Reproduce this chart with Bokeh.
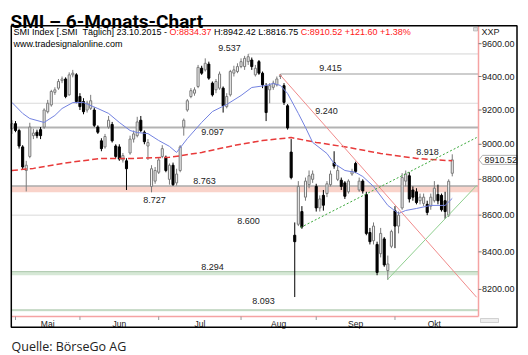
import math
from bokeh.plotting import figure
from bokeh.models import Range1d, Label
from bokeh.core.properties import value
from bokeh.embed import file_html
from bokeh.resources import INLINE

# ---------------- data ----------------
months = ["Mai", "Jun", "Jul", "Aug", "Sep", "Okt"]
month_days = [18, 22, 23, 21, 22, 22]          # trading days per month
first_index = -1                                # first candle = 30.04.2015

opens = [9090, 9120, 9080, 8985, 8850, 8930, 9050, 9070, 9085, 9100, 9190, 9230, 9305, 9330, 9375, 9385,
         9290, 9410, 9410, 9280, 9250, 9200, 9210, 9200, 9100, 9020, 8985, 9100, 9115, 8990, 8985, 8910,
         8905, 8950, 9030, 9050, 9140, 9070, 8990, 8760, 8790, 8840, 8930, 8925, 8800, 8880, 8780, 8850,
         9100, 9200, 9280, 9300, 9340, 9450, 9440, 9475, 9360, 9320, 9330, 9330, 9220, 9290, 9420, 9430,
         9460, 9460, 9490, 9500, 9410, 9490, 9420, 9345, 9320, 9335, 9350, 9400, 9345, 9225, 8955, 8490,
         8550, 8620, 8700, 8770, 8800, 8760, 8640, 8710, 8720, 8770, 8895, 8800, 8795, 8780, 8730, 8830,
         8890, 8740, 8790, 8715, 8505, 8460, 8440, 8390, 8470, 8300, 8430, 8625, 8540, 8640, 8790, 8820,
         8740, 8730, 8680, 8665, 8660, 8650, 8680, 8715, 8710, 8680, 8600, 8834.37]
highs = [9140, 9135, 9090, 8995, 8905, 9125, 9090, 9085, 9100, 9210, 9260, 9320, 9335, 9385, 9400, 9395,
         9425, 9440, 9420, 9300, 9270, 9255, 9290, 9215, 9110, 9035, 9060, 9165, 9130, 9000, 9000, 8950,
         8920, 9050, 9080, 9160, 9165, 9080, 9030, 8880, 8870, 8925, 8995, 8935, 8890, 8895, 8860, 8995,
         9150, 9265, 9330, 9335, 9470, 9465, 9510, 9490, 9370, 9385, 9430, 9340, 9300, 9440, 9465, 9480,
         9510, 9525, 9537, 9515, 9470, 9500, 9430, 9360, 9360, 9375, 9400, 9415, 9360, 9235, 9030, 8560,
         8790, 8650, 8810, 8850, 8850, 8775, 8710, 8740, 8790, 8850, 8960, 8880, 8810, 8790, 8800, 8860,
         8900, 8810, 8800, 8730, 8530, 8560, 8455, 8530, 8480, 8380, 8520, 8650, 8620, 8835, 8850, 8840,
         8760, 8750, 8720, 8720, 8680, 8720, 8790, 8770, 8720, 8730, 8800, 8942.42]
lows = [9060, 9070, 8975, 8855, 8732, 8920, 9030, 9035, 9030, 9090, 9180, 9220, 9290, 9320, 9360, 9270,
        9285, 9395, 9240, 9200, 9175, 9185, 9200, 9100, 9060, 8960, 8975, 9090, 9010, 8920, 8905, 8895,
        8740, 8940, 9010, 9040, 9070, 9000, 8910, 8727, 8775, 8830, 8920, 8840, 8770, 8763, 8765, 8840,
        9050, 9190, 9270, 9285, 9330, 9410, 9430, 9380, 9280, 9300, 9320, 9185, 9210, 9280, 9400, 9420,
        9450, 9440, 9470, 9440, 9400, 9410, 9330, 9135, 9240, 9320, 9340, 9385, 9230, 9085, 8800, 8160,
        8540, 8525, 8680, 8750, 8780, 8620, 8620, 8625, 8700, 8760, 8860, 8790, 8740, 8690, 8720, 8820,
        8835, 8730, 8720, 8490, 8440, 8440, 8275, 8370, 8320, 8250, 8420, 8420, 8500, 8630, 8760, 8670,
        8680, 8660, 8660, 8650, 8600, 8630, 8670, 8660, 8620, 8580, 8590, 8816.75]
closes = [9120, 9080, 8990, 8870, 8880, 9100, 9065, 9050, 9050, 9200, 9240, 9310, 9320, 9370, 9385, 9280,
          9410, 9420, 9250, 9220, 9190, 9240, 9255, 9110, 9070, 8975, 9045, 9140, 9020, 8930, 8915, 8935,
          8860, 9030, 9060, 9130, 9080, 9015, 9010, 8860, 8850, 8910, 8975, 8850, 8880, 8770, 8830, 8985,
          9140, 9255, 9315, 9320, 9455, 9420, 9480, 9390, 9290, 9370, 9415, 9225, 9280, 9430, 9440, 9460,
          9490, 9510, 9520, 9460, 9450, 9420, 9350, 9185, 9345, 9360, 9385, 9405, 9245, 9095, 8810, 8455,
          8760, 8535, 8790, 8820, 8830, 8640, 8690, 8655, 8775, 8830, 8875, 8850, 8760, 8705, 8790, 8845,
          8845, 8790, 8735, 8500, 8455, 8540, 8290, 8500, 8330, 8335, 8510, 8540, 8600, 8810, 8830, 8690,
          8700, 8670, 8700, 8700, 8615, 8700, 8750, 8680, 8630, 8620, 8788.92, 8910.52]

# moving averages (trading-day index, value)
blue_ma_idx = [-1, 2, 4, 8, 11, 13, 16, 19, 23, 26, 29, 32, 34, 37, 40, 43, 45, 48, 52, 55, 59, 63,
               66, 70, 72, 74, 76, 79, 81, 83, 87, 89, 92, 95, 97, 100, 104, 107, 109, 112, 116, 120, 122]
blue_ma_val = [9245, 9180, 9150, 9127, 9168, 9209, 9244, 9244, 9209, 9180, 9127, 9080, 9068, 9062, 9022,
               8988, 8953, 9033, 9127, 9191, 9233, 9286, 9334, 9346, 9358, 9346, 9298, 9180, 9098, 9011,
               8947, 8890, 8850, 8839, 8816, 8760, 8654, 8609, 8626, 8637, 8654, 8654, 8693]
red_ma_idx = [-1, 5, 15, 24, 33, 43, 52, 61, 69, 77, 84, 93, 102, 112, 118, 122]
red_ma_val = [8850, 8862, 8896, 8919, 8919, 8925, 8953, 8993, 9022, 9039, 9011, 8982, 8947, 8919, 8910, 8905]

# trend lines (index, price) pairs
trend_red = ([73.7, 128.8], [9415, 8159])
trend_green_dot = ([79.6, 128.8], [8532, 9039])
trend_green = ([103.9, 128.8], [8252, 8765])

# horizontal levels
level_partial = [(65, 9537), (74, 9415)]
zone_pink = (8727, 8763)
zone_green = [(8275, 8294), (8086, 8093)]
label_values = [9537, 9415, 9240, 9097, 8918, 8763, 8727, 8600, 8294, 8093]
axis_ticks = [8200, 8400, 8600, 8800, 9000, 9200, 9400, 9600]

# ---------------- layout helpers (image pixel -> data) ----------------
PX0, PXD = 15.0, 3.58
PY_REF, P_REF, PX_LN = 76.0, 9400.0, 1559.0
FIG_W, FIG_H = 528, 355

def X(px):
    return (px - PX0) / PXD

def Y(py):
    return P_REF * math.exp((PY_REF - py) / PX_LN)

def PY(p):
    return PY_REF - PX_LN * math.log(p / P_REF)

FONT = value("Liberation Sans")
AW = {' ': 278, '%': 889, '+': 584, '-': 333, '.': 278, ':': 278, '[': 278, ']': 278,
      'A': 667, 'C': 722, 'H': 722, 'I': 278, 'L': 556, 'M': 833, 'O': 778, 'S': 667, 'T': 611,
      'a': 556, 'c': 500, 'd': 556, 'e': 556, 'g': 556, 'h': 556, 'i': 222, 'l': 222, 'n': 556,
      'o': 556, 'r': 333, 's': 500, 't': 278, 'u': 556, 'w': 722, 'x': 500, 'ä': 556}

def tw(s, size):
    return sum(AW.get(ch, 556) for ch in s) * size / 1000.0

p = figure(width=FIG_W, height=FIG_H, output_backend="svg", toolbar_location=None,
           x_range=Range1d(X(0), X(FIG_W)), y_range=Range1d(Y(FIG_H), Y(0)),
           y_axis_type="log", x_axis_location=None, y_axis_location=None,
           min_border=0, outline_line_color=None)
p.background_fill_color = "white"
p.border_fill_color = "white"
for g in p.grid:
    g.visible = False

XL, XR = X(11), X(478)

# zones and levels
p.quad(left=[XL], right=[XR], bottom=[zone_pink[0]], top=[zone_pink[1]],
       fill_color="#f9d3ca", line_color=None)
for lo, hi in zone_green:
    p.quad(left=[XL], right=[XR], bottom=[lo], top=[hi], fill_color="#d6e8d6", line_color=None)
p.segment(x0=[XL] * 2, x1=[XR] * 2, y0=[9240, 8600], y1=[9240, 8600], line_color="#dadada", line_width=1)
p.segment(x0=[XL], x1=[XR], y0=[9097], y1=[9097], line_color="#b3b3b3", line_width=2)
p.segment(x0=[XL], x1=[XR], y0=[8763], y1=[8763], line_color="#ababab", line_width=1.5)
p.segment(x0=[XL] * 2, x1=[XR] * 2, y0=[8294, 8093], y1=[8294, 8093], line_color="#a9c6a9", line_width=1)
p.segment(x0=[level_partial[0][0]], x1=[XR], y0=[level_partial[0][1]], y1=[level_partial[0][1]],
          line_color="#d4d4d4", line_width=1)
p.segment(x0=[level_partial[1][0]], x1=[XR], y0=[level_partial[1][1]], y1=[level_partial[1][1]],
          line_color="#bdbdbd", line_width=1.5)

# candles
xs = [first_index + k for k in range(len(closes))]
up = [c >= o for o, c in zip(opens, closes)]
wick_col = ["#7a7a7a" if u else "#000000" for u in up]
p.segment(x0=xs, x1=xs, y0=lows, y1=highs, line_color=wick_col, line_width=1)
p.vbar(x=xs, width=0.58, top=[max(o, c) for o, c in zip(opens, closes)],
       bottom=[min(o, c) for o, c in zip(opens, closes)],
       fill_color=["#f4f4f4" if u else "#000000" for u in up],
       line_color=wick_col, line_width=1)

# moving averages and trend lines
p.line(red_ma_idx, red_ma_val, line_color="#e83a3a", line_width=1.5, line_dash="6 3")
p.line(blue_ma_idx, blue_ma_val, line_color="#7382e0", line_width=1)
p.line(trend_red[0], trend_red[1], line_color="#f08a8a", line_width=1)
p.line(trend_green_dot[0], trend_green_dot[1], line_color="#3aa83a", line_width=1, line_dash="2 2")
p.line(trend_green[0], trend_green[1], line_color="#8fcf8f", line_width=1)

# level labels
lab_pos = [(229, 47.5), (330, 67.5), (326, 110), (212, 131.5), (427, 151.5), (204, 180),
           (154, 199.5), (248, 220), (212, 266), (263, 300)]
p.text(x=[X(a) for a, b in lab_pos], y=[Y(b) for a, b in lab_pos],
       text=[f"{v / 1000:.3f}" for v in label_values], text_font=FONT, text_font_size="9px",
       text_color="#222222", text_align="center", text_baseline="middle")

# pink axis lines
p.segment(x0=[XR], x1=[XR], y0=[Y(25.5)], y1=[Y(316)], line_color="#f5a3a3", line_width=1.5)
p.segment(x0=[XL], x1=[XR], y0=[Y(316)], y1=[Y(316)], line_color="#f5a3a3", line_width=1.5)

# right axis ticks and labels
p.segment(x0=[XR] * len(axis_ticks), x1=[X(481)] * len(axis_ticks), y0=axis_ticks, y1=axis_ticks,
          line_color="#777777", line_width=1)
p.text(x=[X(481.5)] * len(axis_ticks), y=axis_ticks, text=[f"{v:.2f}" for v in axis_ticks],
       text_font=FONT, text_font_size="9px", text_color="#222222", text_baseline="middle")
p.text(x=[X(481)], y=[Y(31.5)], text=["XXP"], text_font=FONT, text_font_size="9px",
       text_color="#222222", text_baseline="middle")

# month ticks and labels
starts = [0]
for d in month_days[:-1]:
    starts.append(starts[-1] + d)
mids = [s + d / 2.0 for s, d in zip(starts, month_days)]
p.segment(x0=starts, x1=starts, y0=[Y(316)] * len(starts), y1=[Y(319.5)] * len(starts),
          line_color="#999999", line_width=1)
p.text(x=mids, y=[Y(323)] * len(mids), text=months, text_font=FONT, text_font_size="8.5px",
       text_color="#222222", text_align="center", text_baseline="middle")

# last price box
cy = PY(closes[-1])
p.patch(x=[X(478.5), X(482), X(516.5), X(516.5), X(482)],
        y=[closes[-1], Y(cy - 4.5), Y(cy - 4.5), Y(cy + 4.5), Y(cy + 4.5)],
        fill_color="white", line_color="#b0b0b0", line_width=1)
p.text(x=[X(484)], y=[closes[-1]], text=[f"{closes[-1]:.2f}"], text_font=FONT, text_font_size="9px",
       text_color="#222222", text_baseline="middle")

# small decorations
p.quad(left=[X(473)], right=[X(477)], top=[Y(27)], bottom=[Y(30.5)], fill_color="#dddddd",
       line_color="#999999", line_width=0.5)
p.quad(left=[X(480)], right=[X(498)], top=[Y(318)], bottom=[Y(322)], fill_color="#eeeeee",
       line_color="#aaaaaa", line_width=0.5)

# header texts
chg = closes[-1] - closes[-2]
pct = chg / closes[-2] * 100
segs = [("SMI Index [.SMI", "#000000", 0.0),
        ("Täglich] 23.10.2015 -", "#000000", 2 * 278 * 9 / 1000.0),
        (f"O:{opens[-1]:.2f}", "#ff2020", 278 * 9 / 1000.0),
        (f"H:{highs[-1]:.2f} L:{lows[-1]:.2f}", "#000000", 278 * 9 / 1000.0),
        (f"C:{closes[-1]:.2f} +{chg:.2f} +{pct:.2f}%", "#ff2020", 278 * 9 / 1000.0)]
cx = 13.0
hx, ht, hc = [], [], []
for s, col, gap in segs:
    cx += gap
    hx.append(X(cx))
    ht.append(s)
    hc.append(col)
    cx += tw(s, 9)
p.text(x=hx, y=[Y(31)] * len(hx), text=ht, text_color=hc, text_font=FONT, text_font_size="9px",
       text_baseline="middle")
p.text(x=[X(13)], y=[Y(43.5)], text=["www.tradesignalonline.com"], text_font=FONT,
       text_font_size="9px", text_color="#000000", text_baseline="middle")

# outer box
p.quad(left=[X(10.8)], right=[X(516.5)], top=[Y(25.2)], bottom=[Y(326.8)], fill_color=None,
       line_color="#000000", line_width=1.5)

# title and source
p.add_layout(Label(x=X(10), y=Y(20.5), text="SMI – 6-Monats-Chart", text_font="Roboto",
                   text_font_style="bold", text_font_size="19px", text_color="#000000",
                   text_baseline="alphabetic"))
p.add_layout(Label(x=X(11), y=Y(345.5), text="Quelle: BörseGo AG", text_font="Open Sans",
                   text_font_size="12.5px", text_color="#222222", text_baseline="alphabetic"))

open("out.html", "w").write(file_html(p, INLINE))
